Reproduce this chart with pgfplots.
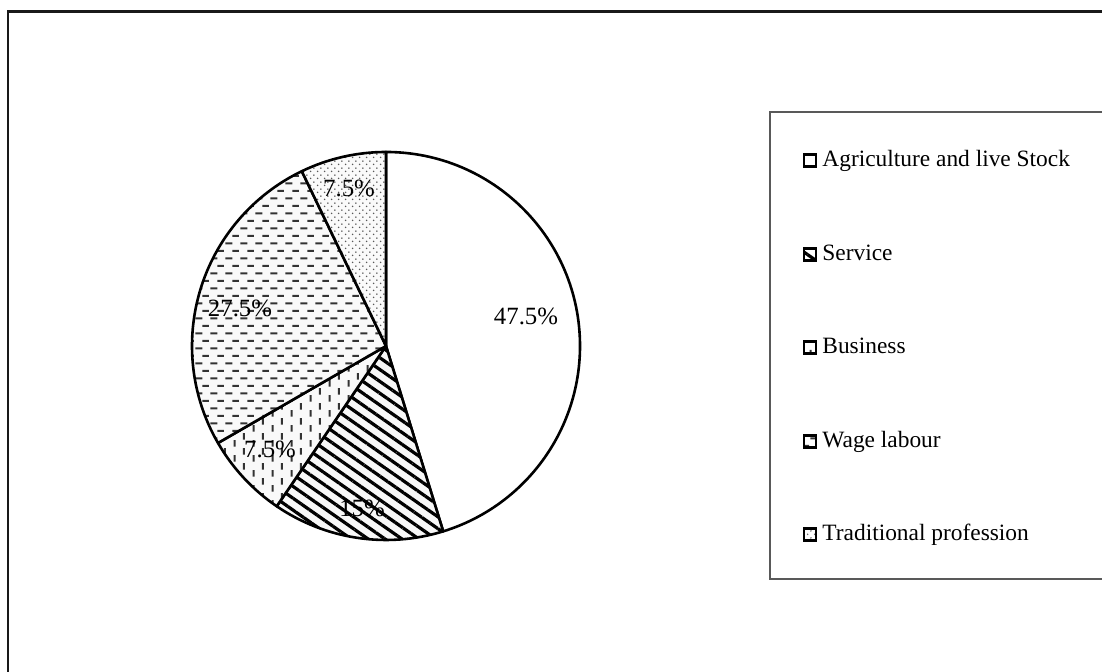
\documentclass[border=0pt]{standalone}
\usepackage{fontspec}
\setmainfont{Liberation Serif}
\usepackage{pgfplots}
\pgfplotsset{compat=1.18}
\usetikzlibrary{patterns,patterns.meta}

% horizontal dashes (brick offset)
\pgfdeclarepatternformonly{hdash}{\pgfqpoint{0pt}{0pt}}{\pgfqpoint{7.5pt}{7.7pt}}{\pgfqpoint{7.5pt}{7.7pt}}{%
 \pgfsetlinewidth{1pt}%
 \pgfpathmoveto{\pgfqpoint{0.2pt}{1.9pt}}\pgfpathlineto{\pgfqpoint{3.9pt}{1.9pt}}%
 \pgfpathmoveto{\pgfqpoint{3.95pt}{5.75pt}}\pgfpathlineto{\pgfqpoint{7.3pt}{5.75pt}}%
 \pgfusepath{stroke}}
% vertical dashes (offset columns)
\pgfdeclarepatternformonly{vdash}{\pgfqpoint{0pt}{0pt}}{\pgfqpoint{9.6pt}{7.5pt}}{\pgfqpoint{9.6pt}{7.5pt}}{%
 \pgfsetlinewidth{1pt}%
 \pgfpathmoveto{\pgfqpoint{2.4pt}{0.2pt}}\pgfpathlineto{\pgfqpoint{2.4pt}{3.7pt}}%
 \pgfpathmoveto{\pgfqpoint{7.2pt}{3.95pt}}\pgfpathlineto{\pgfqpoint{7.2pt}{7.3pt}}%
 \pgfusepath{stroke}}
% small dots
\pgfdeclarepatternformonly{sdots}{\pgfqpoint{0pt}{0pt}}{\pgfqpoint{3.6pt}{3.6pt}}{\pgfqpoint{3.6pt}{3.6pt}}{%
 \pgfpathcircle{\pgfqpoint{0.9pt}{0.9pt}}{0.45pt}%
 \pgfpathcircle{\pgfqpoint{2.7pt}{2.7pt}}{0.45pt}%
 \pgfusepath{fill}}

% data (percent of respondents)
\def\vA{47.5} % Agriculture and live Stock
\def\vB{15}   % Service
\def\vC{7.5}  % Business
\def\vD{27.5} % Wage labour
\def\vE{7.5}  % Traditional profession

\begin{document}
\begin{tikzpicture}
\pgfmathsetmacro\tot{\vA+\vB+\vC+\vD+\vE}
\pgfmathsetmacro\aA{90}
\pgfmathsetmacro\aB{\aA-360*(\vA/\tot)}
\pgfmathsetmacro\aC{\aB-360*(\vB/\tot)}
\pgfmathsetmacro\aD{\aC-360*(\vC/\tot)}
\pgfmathsetmacro\aE{\aD-360*(\vD/\tot)}
\pgfmathsetmacro\aF{\aE-360*(\vE/\tot)}
\useasboundingbox (0,0) rectangle (551pt,336pt);
\begin{axis}[
  at={(0,0)}, anchor=south west,
  width=551pt, height=336pt, scale only axis,
  xmin=0, xmax=1102, ymin=0, ymax=672,
  axis lines=none, ticks=none,
]
\addplot[draw=none] coordinates {(0,0) (1102,672)};
\def\R{97pt}
\tikzset{slice/.style={draw=black, line width=1.3pt, line join=round},
  diag/.style={pattern={Lines[angle=-35, distance=4.85pt, line width=1.6pt]}, pattern color=black}}
% Agriculture
\filldraw[slice, fill=white] (axis cs:386,326) -- ++(\aA:\R) arc[start angle=\aA, end angle=\aB, radius=\R] -- cycle;
% Service
\fill[gray!6] (axis cs:386,326) -- ++(\aB:\R) arc[start angle=\aB, end angle=\aC, radius=\R] -- cycle;
\filldraw[slice, diag] (axis cs:386,326) -- ++(\aB:\R) arc[start angle=\aB, end angle=\aC, radius=\R] -- cycle;
% Business
\fill[gray!5] (axis cs:386,326) -- ++(\aC:\R) arc[start angle=\aC, end angle=\aD, radius=\R] -- cycle;
\filldraw[slice, pattern=vdash, pattern color=black!80] (axis cs:386,326) -- ++(\aC:\R) arc[start angle=\aC, end angle=\aD, radius=\R] -- cycle;
% Wage labour
\fill[gray!5] (axis cs:386,326) -- ++(\aD:\R) arc[start angle=\aD, end angle=\aE, radius=\R] -- cycle;
\filldraw[slice, pattern=hdash, pattern color=black!80] (axis cs:386,326) -- ++(\aD:\R) arc[start angle=\aD, end angle=\aE, radius=\R] -- cycle;
% Traditional profession
\fill[gray!4] (axis cs:386,326) -- ++(\aE:\R) arc[start angle=\aE, end angle=\aF, radius=\R] -- cycle;
\filldraw[slice, pattern=sdots, pattern color=black!65] (axis cs:386,326) -- ++(\aE:\R) arc[start angle=\aE, end angle=\aF, radius=\R] -- cycle;

% data labels
\tikzset{lab/.style={anchor=base, inner sep=0pt, font=\fontsize{12.4}{14}\selectfont}}
\node[lab] at (axis cs:526,347) {\vA\%};
\node[lab] at (axis cs:362,155) {\vB\%};
\node[lab] at (axis cs:270,214) {\vC\%};
\node[lab] at (axis cs:240,355) {\vD\%};
\node[lab] at (axis cs:349,475) {\vE\%};

% outer frame (left and top visible)
\draw[line width=1.3pt, black!90] (axis cs:8,0) -- (axis cs:8,660.5) -- (axis cs:1102,660.5);

% legend
\draw[line width=0.6pt, black!65] (axis cs:1102,560) -- (axis cs:770,560) -- (axis cs:770,93) -- (axis cs:1102,93);
\tikzset{mk/.style={draw=black, line width=1.1pt},
         lt/.style={anchor=base west, inner sep=0pt, font=\fontsize{11.7}{14}\selectfont}}
\filldraw[mk, fill=white] (axis cs:804,505.5) rectangle (axis cs:816,517.5);
\node[lt] at (axis cs:822,505) {Agriculture and live Stock};
\filldraw[mk, diag] (axis cs:804,411.5) rectangle (axis cs:816,423.5);
\node[lt] at (axis cs:822,411) {Service};
\filldraw[mk, pattern=vdash, pattern color=black!80] (axis cs:804,318.5) rectangle (axis cs:816,330.5);
\node[lt] at (axis cs:822,318) {Business};
\filldraw[mk, pattern=hdash, pattern color=black!80] (axis cs:804,224.5) rectangle (axis cs:816,236.5);
\node[lt] at (axis cs:822,224) {Wage labour};
\filldraw[mk, pattern=sdots, pattern color=black!65] (axis cs:804,131.5) rectangle (axis cs:816,143.5);
\node[lt] at (axis cs:822,131) {Traditional profession};
\end{axis}
\end{tikzpicture}
\end{document}
